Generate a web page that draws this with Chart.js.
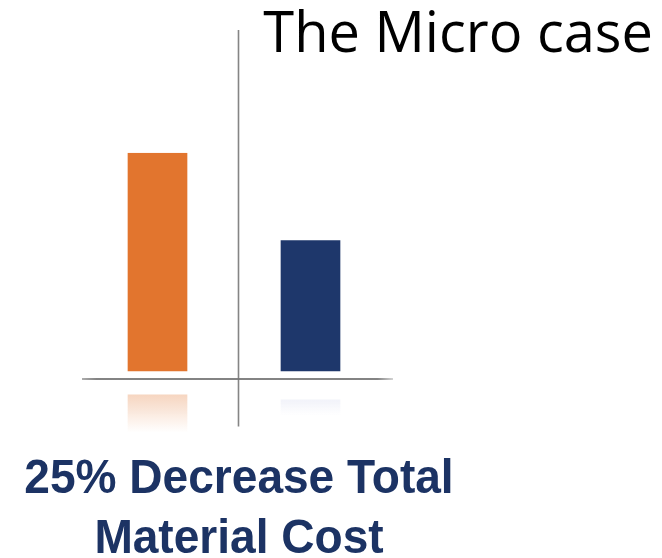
<!DOCTYPE html>
<html>
<head>
<meta charset="utf-8">
<title>The Micro case</title>
<script src="https://cdn.jsdelivr.net/npm/chart.js@4.4.1/dist/chart.umd.min.js"></script>
<style>
  html, body { margin: 0; padding: 0; background: #fff; }
  #wrap { width: 662px; height: 558px; position: relative; }
</style>
</head>
<body>
<div id="wrap"><canvas id="micro"></canvas></div>
<script>
(function () {
    "use strict";

    // ============================
    // Data
    // ============================
    const CATEGORIES = ["Before", "After"];
    const COST_VALUES = [100, 60];
    const BAR_COLORS = ["#E2752E", "#1E376B"];
    const REFLECT_RGB = ["226,117,46", "120,130,200"];
    const REFLECT_ALPHA = [0.30, 0.10];

    const TITLE = "The Micro case";
    const CAPTION = ["25% Decrease Total", "Material Cost"];

    const INK = "#1C3364";
    const RULE = "rgba(110,110,110,.85)";

    // ============================
    // Decorations: rules, reflections, texts
    // ============================
    const decor = {
        id: "microDecor",
        beforeDatasetsDraw(chart) {
            const { ctx, chartArea: a } = chart;
            const meta = chart.getDatasetMeta(0);
            const base = meta.data[0].base;

            ctx.save();
            // faded mirror under the baseline
            meta.data.forEach((bar, i) => {
                const top = base + (i === 0 ? 23 : 28);
                const h = i === 0 ? 38 : 16;
                const g = ctx.createLinearGradient(0, top, 0, top + h);
                g.addColorStop(0, `rgba(${REFLECT_RGB[i]},${REFLECT_ALPHA[i]})`);
                g.addColorStop(1, `rgba(${REFLECT_RGB[i]},0)`);
                ctx.fillStyle = g;
                ctx.fillRect(bar.x - bar.width / 2, top, bar.width, h);
            });

            // horizontal rule
            const hy = base + 7.5;
            const hg = ctx.createLinearGradient(a.left, 0, a.right + 6, 0);
            hg.addColorStop(0, "rgba(110,110,110,.55)");
            hg.addColorStop(0.05, RULE);
            hg.addColorStop(0.95, RULE);
            hg.addColorStop(1, "rgba(110,110,110,.3)");
            ctx.strokeStyle = hg;
            ctx.lineWidth = 2;
            ctx.beginPath();
            ctx.moveTo(a.left + 1, hy);
            ctx.lineTo(a.right + 6, hy);
            ctx.stroke();

            // vertical divider
            const vx = Math.round(a.left + 0.512 * (a.right - a.left)) + 0.5;
            ctx.strokeStyle = "rgba(120,120,120,.9)";
            ctx.lineWidth = 1.6;
            ctx.beginPath();
            ctx.moveTo(vx, 30);
            ctx.lineTo(vx, base + 55);
            ctx.stroke();
            ctx.restore();
        },
        afterDraw(chart) {
            const { ctx } = chart;
            ctx.save();
            ctx.fillStyle = "#000";
            ctx.font = "56px 'Open Sans'";
            ctx.textAlign = "right";
            ctx.textBaseline = "alphabetic";
            ctx.fillText(TITLE, 653, 52);

            ctx.fillStyle = INK;
            ctx.font = "bold 49px 'Liberation Sans', Arial, sans-serif";
            ctx.textAlign = "center";
            const cx = 239;
            const lines = [493, 553];
            CAPTION.forEach((t, i) => {
                ctx.save();
                ctx.translate(cx, lines[i]);
                ctx.scale(0.94, 1);
                ctx.fillText(t, 0, 0);
                ctx.restore();
            });
            ctx.restore();
        }
    };

    // ============================
    // Chart
    // ============================
    const canvas = document.getElementById("micro");
    new Chart(canvas.getContext("2d"), {
        type: "bar",
        data: {
            labels: CATEGORIES,
            datasets: [{
                data: COST_VALUES,
                backgroundColor: BAR_COLORS,
                borderWidth: 0,
                barPercentage: 0.39,
                categoryPercentage: 1
            }]
        },
        options: {
            responsive: true,
            maintainAspectRatio: false,
            animation: false,
            layout: { padding: { left: 81, right: 275, top: 152.7, bottom: 186.5 } },
            plugins: {
                legend: { display: false },
                tooltip: { enabled: false }
            },
            scales: {
                x: { display: false, offset: true, grid: { display: false } },
                y: { display: false, min: 0, max: 100 }
            }
        },
        plugins: [decor]
    });
})();
</script>
</body>
</html>
